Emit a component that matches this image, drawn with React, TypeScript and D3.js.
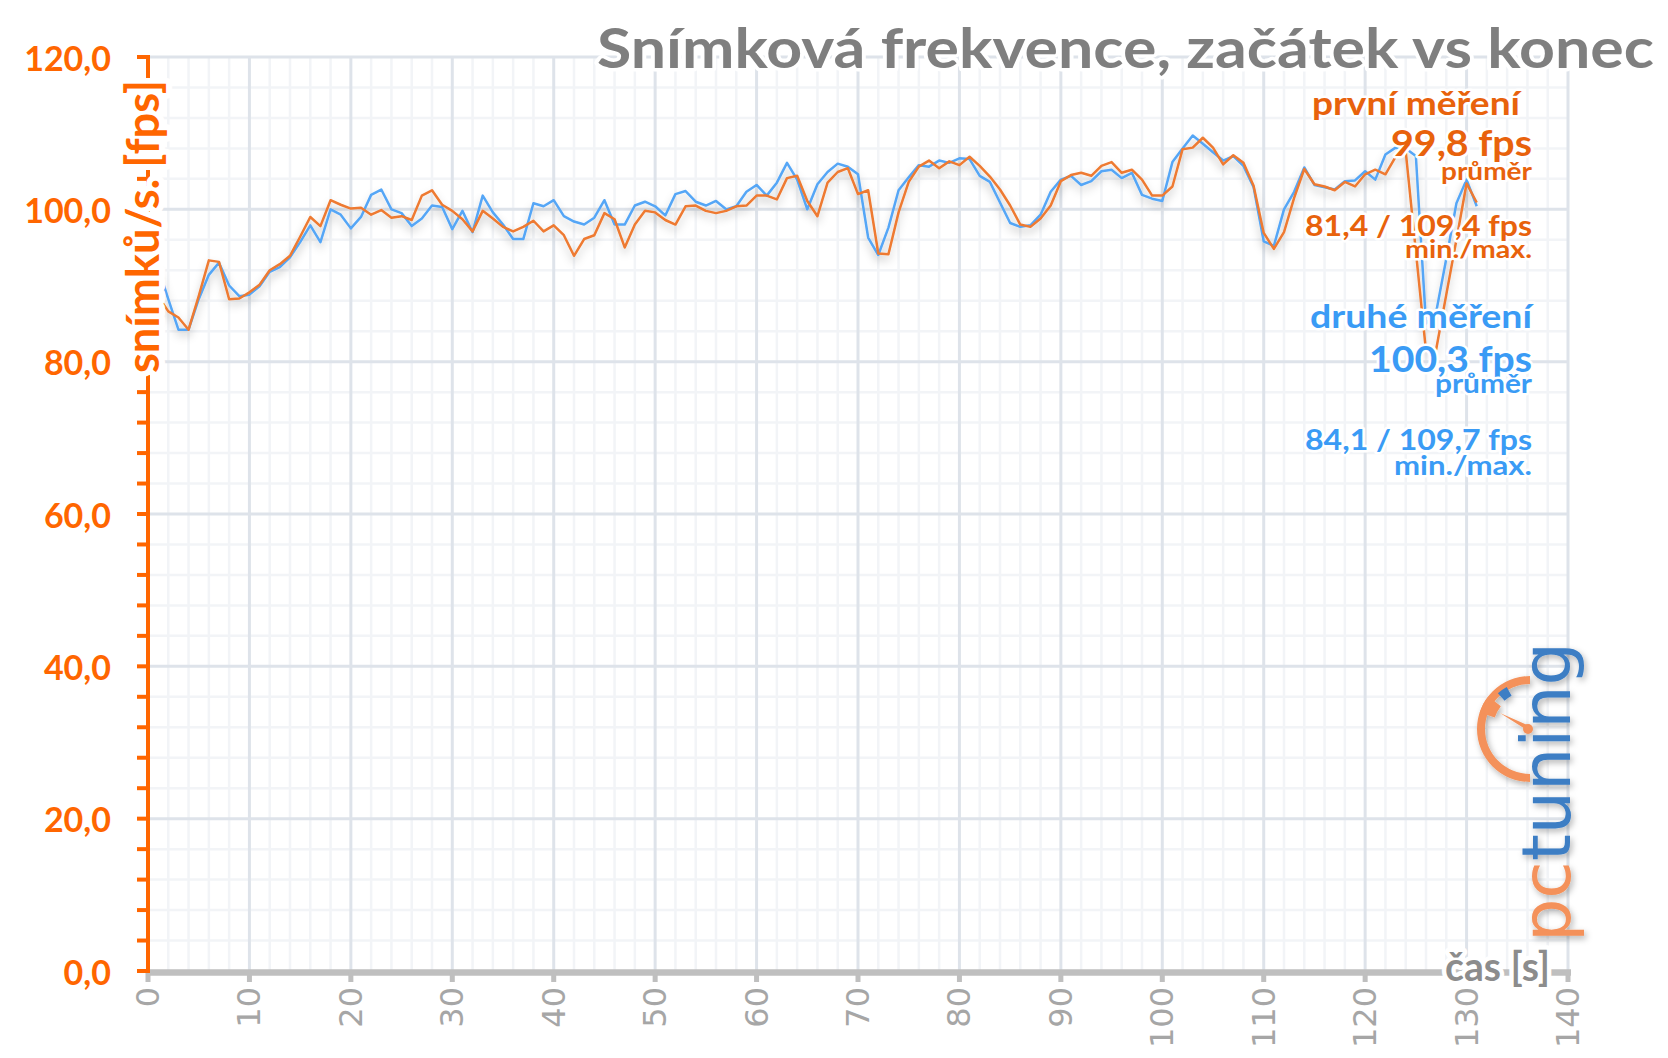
import React from 'react';
import * as d3 from 'd3';

// fps per second of the run, seconds 1..131
const firstRun = [
  88.6, 86.6, 85.8, 84.2, 88.6, 93.3, 93.1, 88.2, 88.3, 89.1,
  90.1, 92.0, 92.8, 93.9, 96.4, 99.0, 97.8, 101.2, 100.6, 100.1,
  100.2, 99.3, 99.9, 98.9, 99.1, 98.6, 101.8, 102.5, 100.6, 99.8,
  98.7, 97.1, 99.8, 98.8, 97.7, 97.1, 97.7, 98.5, 97.1, 97.9,
  96.6, 93.9, 96.1, 96.6, 99.5, 98.7, 95.0, 98.0, 99.8, 99.6,
  98.6, 98.0, 100.4, 100.5, 99.8, 99.5, 99.8, 100.4, 100.5, 101.8,
  101.8, 101.3, 104.1, 104.4, 101.1, 99.1, 103.5, 104.9, 105.4, 102.0,
  102.5, 94.2, 94.1, 99.6, 103.6, 105.6, 106.4, 105.4, 106.3, 105.8,
  106.9, 105.7, 104.3, 102.6, 100.5, 98.0, 97.7, 98.8, 100.5, 103.7,
  104.5, 104.8, 104.4, 105.7, 106.2, 104.8, 105.2, 103.9, 101.8, 101.8,
  103.0, 107.9, 108.1, 109.4, 108.1, 105.9, 107.1, 106.1, 103.1, 96.9,
  94.8, 97.0, 101.5, 105.3, 103.3, 103.0, 102.5, 103.6, 103.0, 104.6,
  105.2, 104.6, 106.9, 107.6, 94.5, 81.4, 81.6, 88.8, 96.0, 103.4,
  100.9,
];

const secondRun = [
  92.4, 88.2, 84.2, 84.2, 88.2, 91.4, 93.0, 90.0, 88.6, 88.8,
  89.9, 91.8, 92.4, 93.7, 95.7, 97.9, 95.7, 100.0, 99.3, 97.5,
  99.0, 101.9, 102.6, 100.0, 99.5, 97.8, 98.8, 100.5, 100.3, 97.4,
  99.8, 97.0, 101.8, 99.6, 98.0, 96.1, 96.1, 100.8, 100.4, 101.2,
  99.1, 98.4, 98.0, 98.9, 101.2, 98.0, 98.0, 100.5, 101.0, 100.4,
  99.2, 102.0, 102.4, 101.0, 100.5, 101.1, 100.0, 100.4, 102.3, 103.2,
  101.8, 103.5, 106.1, 103.9, 100.0, 103.3, 104.9, 106.0, 105.6, 104.6,
  96.3, 94.0, 97.6, 102.5, 104.2, 105.8, 105.6, 106.4, 106.1, 106.7,
  106.6, 104.4, 103.6, 100.9, 98.2, 97.7, 97.9, 99.3, 102.3, 103.9,
  104.4, 103.2, 103.7, 105.0, 105.2, 104.1, 104.8, 101.9, 101.4, 101.1,
  106.2, 108.0, 109.7, 108.6, 107.5, 106.4, 107.0, 105.7, 102.9, 95.8,
  95.2, 100.0, 102.3, 105.5, 103.2, 102.9, 102.6, 103.7, 103.8, 105.0,
  103.9, 107.2, 108.1, 108.0, 107.0, 85.0, 86.5, 93.5, 100.8, 103.9,
  100.4,
];

const xTicks = [0, 10, 20, 30, 40, 50, 60, 70, 80, 90, 100, 110, 120, 130, 140];
const yTicks = [0, 20, 40, 60, 80, 100, 120];

const title = 'Snímková frekvence, začátek vs konec';
const yTitle = 'snímků/s. [fps]';
const xTitle = 'čas [s]';
const firstNotes = ['první měření', '99,8 fps', 'průměr', '81,4 / 109,4 fps', 'min./max.'];
const secondNotes = ['druhé měření', '100,3 fps', 'průměr', '84,1 / 109,7 fps', 'min./max.'];

const ORANGE_LINE = '#EE7A30';
const BLUE_LINE = '#55A6F6';
const ORANGE_TEXT = '#E8620C';
const BLUE_TEXT = '#3A9BF5';
const AXIS_ORANGE = '#FF6600';
const FONT = 'Lato, "Open Sans", sans-serif';

// layout of the note lines: [baseline, fontSize, width]
const noteLayout = [
  [115, 32, 208],
  [156, 36, 141],
  [180, 25, 91],
  [236, 29, 227],
  [258, 24, 127],
];
const noteLayout2 = [
  [328, 32, 222],
  [372, 37, 163],
  [393, 26, 97],
  [450, 29, 227],
  [475, 26, 138],
];

const halo = {
  stroke: '#fff',
  strokeWidth: 7,
  strokeLinejoin: 'round' as const,
  paintOrder: 'stroke' as const,
};

export default function App() {
  const x = d3.scaleLinear().domain([0, 140]).range([148, 1568]);
  const y = d3.scaleLinear().domain([0, 120]).range([971, 57]);

  const line = d3
    .line<number>()
    .x((_, i) => x(i + 1))
    .y((d) => y(d));

  const vMinor = d3.range(0, 141, 2).filter((v) => v % 10 !== 0);
  const vMajor = d3.range(0, 141, 10);
  const hMinor = d3.range(0, 121, 4).filter((v) => v % 20 !== 0);
  const hMajor = d3.range(20, 121, 20);
  const yTickMarks = d3.range(0, 121, 4);

  // pctuning gauge
  const cx = 1530;
  const cy = 729;
  const arc = d3.arc();
  const deg = (a: number) => (a * Math.PI) / 180;
  const gaugeRing = arc({ innerRadius: 45, outerRadius: 53, startAngle: Math.PI, endAngle: 2 * Math.PI } as any);
  const gaugeBlock = arc({ innerRadius: 37, outerRadius: 53, startAngle: deg(288), endAngle: deg(308) } as any);
  const gaugeMark = arc({ innerRadius: 38, outerRadius: 48, startAngle: deg(318), endAngle: deg(331) } as any);
  const na = deg(298);
  const tip = [cx + 34 * Math.sin(na), cy - 34 * Math.cos(na)];
  const px = 2.6 * Math.cos(na);
  const py = 2.6 * Math.sin(na);

  return (
    <svg width={1668} height={1058} style={{ display: 'block', background: '#fff' }}>
      <style>{'body{margin:0}'}</style>
      <defs>
        <filter id="lineShadow" x="-5%" y="-20%" width="110%" height="140%">
          <feDropShadow dx="0" dy="5" stdDeviation="4" floodColor="#000" floodOpacity="0.22" />
        </filter>
        <filter id="logoShadow" x="-20%" y="-10%" width="140%" height="120%">
          <feDropShadow dx="2" dy="3" stdDeviation="3" floodColor="#000" floodOpacity="0.3" />
        </filter>
      </defs>

      {/* grid */}
      <g>
        {vMinor.map((v) => (
          <line key={'vm' + v} x1={x(v)} x2={x(v)} y1={y(120)} y2={y(0)} stroke="#F2F4F7" strokeWidth={2.5} />
        ))}
        {hMinor.map((v) => (
          <line key={'hm' + v} x1={x(0)} x2={x(140)} y1={y(v)} y2={y(v)} stroke="#F2F4F7" strokeWidth={2.5} />
        ))}
        {vMajor.map((v) => (
          <line key={'vM' + v} x1={x(v)} x2={x(v)} y1={y(120)} y2={y(0)} stroke="#DEE3EA" strokeWidth={3} />
        ))}
        {hMajor.map((v) => (
          <line key={'hM' + v} x1={x(0)} x2={x(140)} y1={y(v)} y2={y(v)} stroke="#DEE3EA" strokeWidth={3} />
        ))}
      </g>

      {/* logo */}
      <g filter="url(#logoShadow)">
        <path d={gaugeRing || ''} transform={`translate(${cx},${cy})`} fill="#F4915A" />
        <path d={gaugeBlock || ''} transform={`translate(${cx},${cy})`} fill="#F4915A" />
        <path d={gaugeMark || ''} transform={`translate(${cx},${cy})`} fill="#3D7EC4" />
        <polygon
          points={`${tip[0]},${tip[1]} ${cx + px},${cy + py} ${cx - px},${cy - py}`}
          fill="#F4915A"
        />
        <circle cx={cx - 2} cy={cy} r={5} fill="#F4915A" />
        <text
          transform="translate(1570,942) rotate(-90)"
          fontFamily='"DejaVu Sans", sans-serif'
          fontSize={68}
          textLength={300}
          lengthAdjust="spacingAndGlyphs"
        >
          <tspan fill="#F4915A">pc</tspan>
          <tspan fill="#3D7EC4">tuning</tspan>
        </text>
      </g>

      {/* series */}
      <g filter="url(#lineShadow)" fill="none" strokeWidth={2.5} strokeLinejoin="round">
        <path d={line(secondRun) || ''} stroke={BLUE_LINE} />
        <path d={line(firstRun) || ''} stroke={ORANGE_LINE} />
      </g>

      {/* x axis */}
      <line x1={146} x2={1571} y1={972.5} y2={972.5} stroke="#BFBFBF" strokeWidth={6.5} />
      {xTicks.map((t) => (
        <rect key={'xt' + t} x={x(t) - 2.5} y={972} width={5} height={10} fill="#BFBFBF" />
      ))}
      {xTicks.map((t) => (
        <text
          key={'xl' + t}
          transform={`translate(${x(t)},987) rotate(-90)`}
          textAnchor="end"
          dominantBaseline="central"
          fontFamily='"DejaVu Sans", sans-serif'
          fontSize={32}
          fill="#A6A6A6"
        >
          {t}
        </text>
      ))}
      <text
        x={1550}
        y={981}
        textAnchor="end"
        fontFamily={FONT}
        fontWeight="bold"
        fontSize={40}
        fill="#8C8C8C"
        textLength={105}
        lengthAdjust="spacingAndGlyphs"
        {...halo}
        strokeWidth={9}
      >
        {xTitle}
      </text>

      {/* y axis */}
      <line x1={148} x2={148} y1={y(0) + 2} y2={y(120) - 2} stroke={AXIS_ORANGE} strokeWidth={4} />
      {yTickMarks.map((v) => (
        <line key={'yt' + v} x1={137} x2={148} y1={y(v)} y2={y(v)} stroke={AXIS_ORANGE} strokeWidth={4} />
      ))}
      <text
        transform="translate(159,226.5) rotate(-90)"
        textAnchor="middle"
        fontFamily={FONT}
        fontWeight="bold"
        fontSize={46}
        fill={AXIS_ORANGE}
        textLength={293}
        lengthAdjust="spacingAndGlyphs"
        {...halo}
        strokeWidth={12}
      >
        {yTitle}
      </text>
      {yTicks.map((v) => (
        <text
          key={'yl' + v}
          x={111}
          y={y(v)}
          textAnchor="end"
          dominantBaseline="central"
          fontFamily={FONT}
          fontWeight="bold"
          fontSize={34}
          fill={AXIS_ORANGE}
        >
          {v.toFixed(1).replace('.', ',')}
        </text>
      ))}

      {/* title */}
      <text
        x={1654}
        y={68}
        textAnchor="end"
        fontFamily={FONT}
        fontWeight="bold"
        fontSize={56}
        fill="#7F7F7F"
        textLength={1057}
        lengthAdjust="spacingAndGlyphs"
        {...halo}
      >
        {title}
      </text>

      {/* notes */}
      {firstNotes.map((s, i) => (
        <text
          key={'n1' + i}
          x={i === 0 ? 1520 : 1532}
          y={noteLayout[i][0]}
          textAnchor="end"
          fontFamily={FONT}
          fontWeight="bold"
          fontSize={noteLayout[i][1]}
          fill={ORANGE_TEXT}
          textLength={noteLayout[i][2]}
          lengthAdjust="spacingAndGlyphs"
          {...halo}
          strokeWidth={5}
        >
          {s}
        </text>
      ))}
      {secondNotes.map((s, i) => (
        <text
          key={'n2' + i}
          x={1532}
          y={noteLayout2[i][0]}
          textAnchor="end"
          fontFamily={FONT}
          fontWeight="bold"
          fontSize={noteLayout2[i][1]}
          fill={BLUE_TEXT}
          textLength={noteLayout2[i][2]}
          lengthAdjust="spacingAndGlyphs"
          {...halo}
          strokeWidth={5}
        >
          {s}
        </text>
      ))}
    </svg>
  );
}
